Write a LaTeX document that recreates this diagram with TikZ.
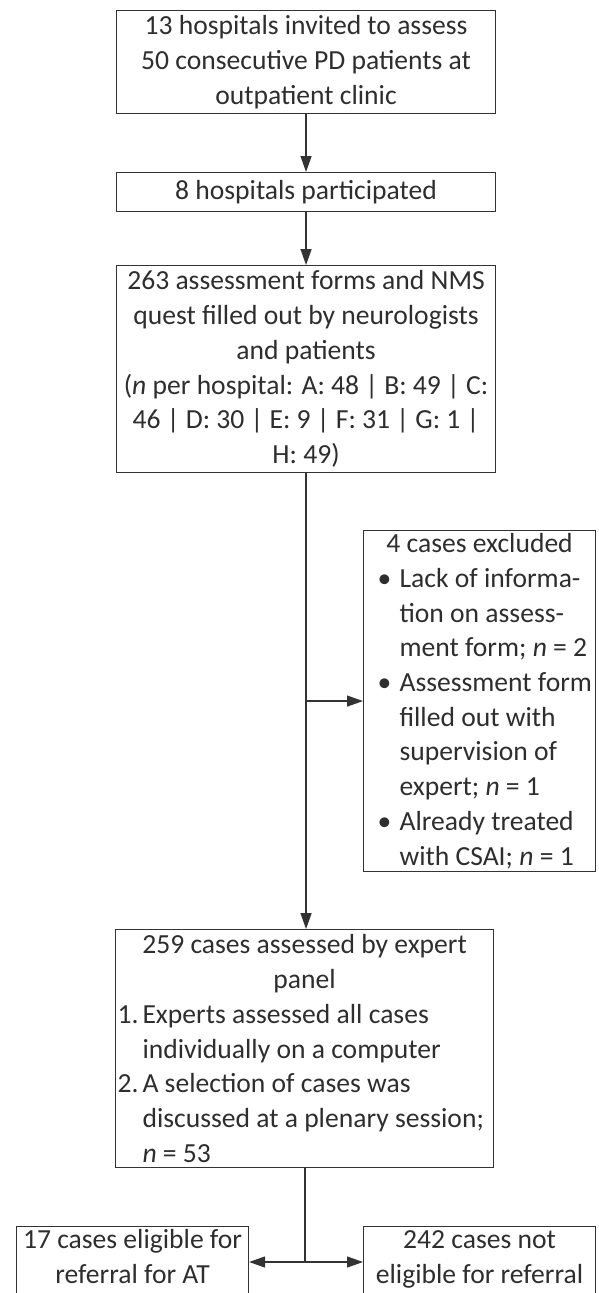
\documentclass[tikz,border=0pt]{standalone}
\usepackage{fontspec}
\setmainfont{Carlito}
\usetikzlibrary{arrows.meta}
\definecolor{ink}{HTML}{2E2E2E}
\definecolor{edge}{HTML}{333333}
\begin{document}
\begin{tikzpicture}[x=1pt,y=-1pt,
  box/.style={draw=edge, line width=1.1pt, rectangle, inner sep=0pt, text=ink,
    font={\fontsize{27.6}{34.7}\selectfont}, anchor=north west},
  arr/.style={draw=edge, line width=1.2pt, -{Triangle[length=16pt,width=11pt]}},
  ln/.style={draw=edge, line width=1.2pt}]
\useasboundingbox (0,0) rectangle (599,1293);
\fill[white] (0,0) rectangle (599,1293);

\node[box, minimum width=379pt, minimum height=103pt, align=center] (b1) at (116,10)
  {13 hospitals invited to assess\\50 consecutive PD patients at\\outpatient clinic};

\node[box, minimum width=379pt, minimum height=39pt, align=center] (b2) at (116,172)
  {8 hospitals participated};

\node[box, minimum width=379pt, minimum height=207pt, align=center] (b3) at (116,265)
  {263 assessment forms and NMS\\quest filled out by neurologists\\and patients\\
   (\textit{n} per hospital: A: 48 | B: 49 | C:\\46 | D: 30 | E: 9 | F: 31 | G: 1 |\\H: 49)};

\node[box, minimum width=232pt, minimum height=341pt, align=left] (ex) at (363,530)
  {\makebox[232pt][c]{4 cases excluded}\\
   \hspace*{14pt}\makebox[22pt][l]{•}Lack of informa-\\
   \hspace*{36pt}tion on assess-\\
   \hspace*{36pt}ment form; \textit{n} = 2\\
   \hspace*{14pt}\makebox[22pt][l]{•}Assessment form\\
   \hspace*{36pt}filled out with\\
   \hspace*{36pt}supervision of\\
   \hspace*{36pt}expert; \textit{n} = 1\\
   \hspace*{14pt}\makebox[22pt][l]{•}Already treated\\
   \hspace*{36pt}with CSAI; \textit{n} = 1};

\node[box, minimum width=378pt, minimum height=238pt, align=left] (b4) at (115,929)
  {\makebox[378pt][c]{259 cases assessed by expert}\\
   \makebox[378pt][c]{panel}\\
   \hspace*{2pt}\makebox[25pt][l]{1.}Experts assessed all cases\\
   \hspace*{27pt}individually on a computer\\
   \hspace*{2pt}\makebox[25pt][l]{2.}A selection of cases was\\
   \hspace*{27pt}discussed at a plenary session;\\
   \hspace*{27pt}\textit{n} = 53};

\node[box] (b5) at (16,1226)
  {\parbox[t][100pt][t]{232pt}{\centering\rule{0pt}{22pt}17 cases eligible for\\referral for AT}};

\node[box] (b6) at (363,1226)
  {\parbox[t][100pt][t]{232pt}{\centering\rule{0pt}{22pt}242 cases not\\eligible for referral}};

\draw[arr] (b1.south) -- (b2.north);
\draw[arr] (b2.south) -- (b3.north);
\draw[arr] (b3.south) -- (b3.south |- b4.north);
\draw[arr] (b3.south |- ex.west) -- (ex.west);
\coordinate (split) at (305,1262);
\draw[ln] (b4.south -| split) -- (split);
\draw[arr] (split) -- (b5.east |- split);
\draw[arr] (split) -- (b6.west |- split);
\end{tikzpicture}
\end{document}
